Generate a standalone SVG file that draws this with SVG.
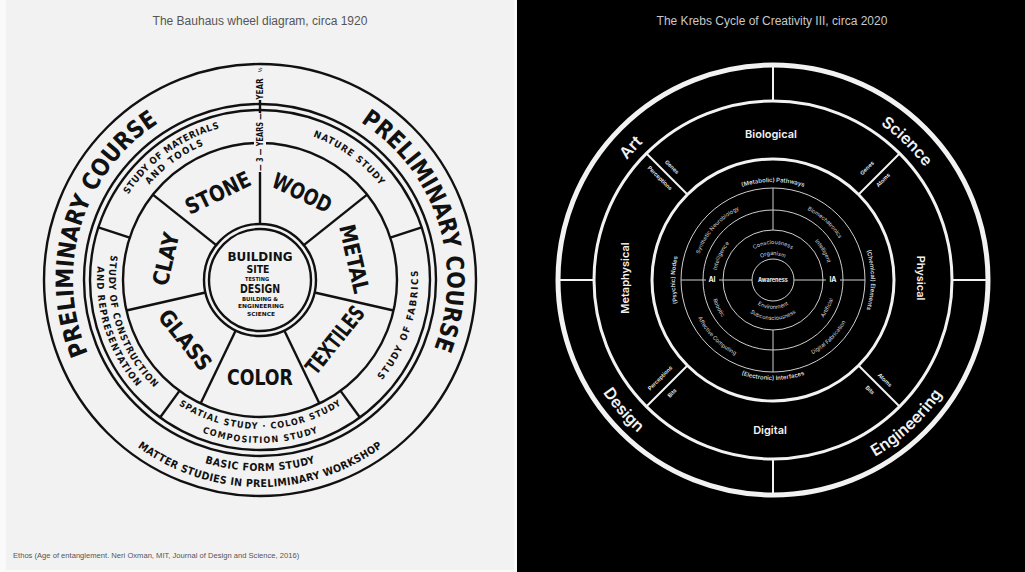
<svg xmlns="http://www.w3.org/2000/svg" xmlns:xlink="http://www.w3.org/1999/xlink" width="1025" height="572" viewBox="0 0 1025 572">
<style>
.bw{fill:none;stroke:#111;stroke-width:2.4}
.bt{font-family:"Liberation Sans Narrow","DejaVu Sans Condensed","Roboto Condensed","Liberation Sans",sans-serif;font-weight:bold;fill:#111}
.kw{fill:none;stroke:#f2f2f2}
.kt{font-family:"Inter","Liberation Sans",sans-serif;fill:#f2f2f2}
.ks{font-family:"Inter","Liberation Sans",sans-serif;fill:#d8d8d8;font-size:5.5px}
.cap{font-family:"Liberation Sans",Arial,sans-serif;font-size:12px}
</style>
<defs>
<path id="b_cw187" d="M75.84,247.53 A187,187 0 0 1 444.16,247.53"/>
<path id="b_ccw191" d="M71.90,313.17 A191,191 0 0 0 448.10,313.17"/>
<path id="b_ccw207" d="M56.14,315.95 A207,207 0 0 0 463.86,315.95"/>
<path id="b_cw157" d="M105.38,252.74 A157,157 0 0 1 414.62,252.74"/>
<path id="b_cw146" d="M116.22,254.65 A146,146 0 0 1 403.78,254.65"/>
<path id="b_cw153" d="M109.32,253.43 A153,153 0 0 1 410.68,253.43"/>
<path id="b_ccw158" d="M104.40,307.44 A158,158 0 0 0 415.60,307.44"/>
<path id="b_ccw149" d="M113.26,305.87 A149,149 0 0 0 406.74,305.87"/>
<path id="b_ccw163" d="M99.48,308.30 A163,163 0 0 0 420.52,308.30"/>
<path id="b_ccw151" d="M111.29,306.22 A151,151 0 0 0 408.71,306.22"/>
<path id="k_cw189" d="M586.87,247.18 A189,189 0 0 1 959.13,247.18"/>
<path id="k_ccw204" d="M572.10,315.42 A204,204 0 0 0 973.90,315.42"/>
<path id="k_cw98" d="M676.49,262.98 A98,98 0 0 1 869.51,262.98"/>
<path id="k_ccw100" d="M674.52,297.37 A100,100 0 0 0 871.48,297.37"/>
<path id="k_cw78" d="M696.18,266.46 A78,78 0 0 1 849.82,266.46"/>
<path id="k_ccw84" d="M690.28,294.59 A84,84 0 0 0 855.72,294.59"/>
<path id="k_cw57" d="M716.87,270.10 A57,57 0 0 1 829.13,270.10"/>
<path id="k_ccw63" d="M710.96,290.94 A63,63 0 0 0 835.04,290.94"/>
<path id="k_cw36" d="M737.55,273.75 A36,36 0 0 1 808.45,273.75"/>
<path id="k_cw25" d="M748.38,275.66 A25,25 0 0 1 797.62,275.66"/>
<path id="k_ccw29" d="M744.44,285.04 A29,29 0 0 0 801.56,285.04"/>
<path id="k_ccw40" d="M733.61,286.95 A40,40 0 0 0 812.39,286.95"/>
</defs>

<rect width="1025" height="572" fill="#fafafa"/>
<rect x="6" y="0" width="508" height="570" fill="#f2f2f2"/>
<rect x="517" y="0" width="508" height="572" fill="#000"/>

<text class="cap" x="260" y="25" text-anchor="middle" fill="#555">The Bauhaus wheel diagram, circa 1920</text>
<text class="cap" x="772" y="25" text-anchor="middle" fill="#c8c8c8">The Krebs Cycle of Creativity III, circa 2020</text>
<text x="13" y="558" font-family="Liberation Sans,Arial,sans-serif" font-size="7.6" fill="#555">Ethos (Age of entanglement. Neri Oxman, MIT, Journal of Design and Science, 2016)</text>

<!-- ============ BAUHAUS WHEEL ============ -->
<g id="bauhaus-rings">
<circle class="bw" cx="260" cy="280" r="216" stroke-width="2.8"/>
<circle class="bw" cx="260" cy="280" r="176"/>
<circle class="bw" cx="260" cy="280" r="170"/>
<circle class="bw" cx="260" cy="280" r="137"/>
<circle class="bw" cx="260" cy="280" r="56"/>
<circle class="bw" cx="260" cy="280" r="51"/>
</g>
<g id="bauhaus-connectors" class="bw">
<line x1="260" y1="224" x2="260" y2="172"/>
<line x1="260" y1="114" x2="260" y2="100"/>
<line x1="303.78" y1="245.08" x2="367.11" y2="194.58"/>
<line x1="314.60" y1="292.46" x2="393.57" y2="310.49"/>
<line x1="284.30" y1="330.45" x2="319.44" y2="403.43"/>
<line x1="235.70" y1="330.45" x2="200.56" y2="403.43"/>
<line x1="205.40" y1="292.46" x2="126.43" y2="310.49"/>
<line x1="216.22" y1="245.08" x2="152.89" y2="194.58"/>
<line x1="390.30" y1="237.66" x2="421.68" y2="227.47"/>
<line x1="340.53" y1="390.84" x2="359.92" y2="417.53"/>
<line x1="179.47" y1="390.84" x2="160.08" y2="417.53"/>
<line x1="129.70" y1="237.66" x2="98.32" y2="227.47"/>
</g>
<rect x="254" y="113" width="12" height="59" fill="#f2f2f2"/>
<text class="bt" font-size="8.5" transform="translate(260,142) rotate(-90)" text-anchor="middle" dominant-baseline="central" textLength="58" lengthAdjust="spacingAndGlyphs">— 3 — YEARS —</text>
<text class="bt" font-size="8" transform="translate(260,89) rotate(-90)" text-anchor="middle" dominant-baseline="central">YEAR</text>
<text class="bt" font-size="5" transform="translate(260,70) rotate(-90)" text-anchor="middle" dominant-baseline="central">½</text>

<g id="bauhaus-outer-ring">
<text class="bt" font-size="24" transform="rotate(-73 260 280)"><textPath href="#b_cw187" startOffset="50%" text-anchor="middle" textLength="262" lengthAdjust="spacingAndGlyphs">PRELIMINARY COURSE</textPath></text>
<text class="bt" font-size="24" transform="rotate(72 260 280)"><textPath href="#b_cw187" startOffset="50%" text-anchor="middle" textLength="258" lengthAdjust="spacingAndGlyphs">PRELIMINARY COURSE</textPath></text>
<text class="bt" font-size="10.5"><textPath href="#b_ccw191" startOffset="50%" text-anchor="middle" textLength="112">BASIC FORM STUDY</textPath></text>
<text class="bt" font-size="10.5"><textPath href="#b_ccw207" startOffset="50%" text-anchor="middle" textLength="262">MATTER STUDIES IN PRELIMINARY WORKSHOP</textPath></text>
</g>
<g id="bauhaus-study-ring">
<text class="bt" font-size="9.5" transform="rotate(-36 260 280)"><textPath href="#b_cw157" startOffset="50%" text-anchor="middle" textLength="115">STUDY OF MATERIALS</textPath></text>
<text class="bt" font-size="9.5" transform="rotate(-36 260 280)"><textPath href="#b_cw146" startOffset="50%" text-anchor="middle" textLength="68">AND TOOLS</textPath></text>
<text class="bt" font-size="9.5" transform="rotate(36 260 280)"><textPath href="#b_cw153" startOffset="50%" text-anchor="middle" textLength="84">NATURE STUDY</textPath></text>
<text class="bt" font-size="9.5" transform="rotate(-72 260 280)"><textPath href="#b_ccw158" startOffset="50%" text-anchor="middle" textLength="118">STUDY OF FABRICS</textPath></text>
<text class="bt" font-size="9"><textPath href="#b_ccw149" startOffset="50%" text-anchor="middle" textLength="172">SPATIAL STUDY · COLOR STUDY</textPath></text>
<text class="bt" font-size="9"><textPath href="#b_ccw163" startOffset="50%" text-anchor="middle" textLength="118">COMPOSITION STUDY</textPath></text>
<text class="bt" font-size="9.5" transform="rotate(72 260 280)"><textPath href="#b_ccw151" startOffset="50%" text-anchor="middle" textLength="145">STUDY OF CONSTRUCTION</textPath></text>
<text class="bt" font-size="9.5" transform="rotate(72 260 280)"><textPath href="#b_ccw163" startOffset="50%" text-anchor="middle" textLength="130">AND REPRESENTATION</textPath></text>
</g>
<g id="bauhaus-workshops" text-anchor="middle" dominant-baseline="central">
<text class="bt" font-size="22" transform="translate(218,193) rotate(-25.7)" textLength="70" lengthAdjust="spacingAndGlyphs">STONE</text>
<text class="bt" font-size="22" transform="translate(302,193) rotate(25.7)" textLength="63" lengthAdjust="spacingAndGlyphs">WOOD</text>
<text class="bt" font-size="22" transform="translate(354,259) rotate(77.1)" textLength="70" lengthAdjust="spacingAndGlyphs">METAL</text>
<text class="bt" font-size="22" transform="translate(335,340) rotate(-51.4)" textLength="80" lengthAdjust="spacingAndGlyphs">TEXTILES</text>
<text class="bt" font-size="22" transform="translate(260,377)" textLength="66" lengthAdjust="spacingAndGlyphs">COLOR</text>
<text class="bt" font-size="22" transform="translate(185,340) rotate(51.4)" textLength="71" lengthAdjust="spacingAndGlyphs">GLASS</text>
<text class="bt" font-size="22" transform="translate(166,259) rotate(-77.1)" textLength="54" lengthAdjust="spacingAndGlyphs">CLAY</text>
</g>
<g id="bauhaus-hub" text-anchor="middle">
<text class="bt" x="260" y="261" font-size="12.5" textLength="65" lengthAdjust="spacingAndGlyphs">BUILDING</text>
<text class="bt" x="258" y="273" font-size="10.5" textLength="23" lengthAdjust="spacingAndGlyphs">SITE</text>
<text class="bt" x="257" y="281" font-size="5.5" textLength="24" lengthAdjust="spacingAndGlyphs">TESTING</text>
<text class="bt" x="260" y="293" font-size="13" textLength="40" lengthAdjust="spacingAndGlyphs">DESIGN</text>
<text class="bt" x="260" y="301" font-size="5.5" textLength="36" lengthAdjust="spacingAndGlyphs">BUILDING &amp;</text>
<text class="bt" x="261" y="308" font-size="5.5" textLength="46" lengthAdjust="spacingAndGlyphs">ENGINEERING</text>
<text class="bt" x="261" y="316" font-size="5.5" textLength="28" lengthAdjust="spacingAndGlyphs">SCIENCE</text>
</g>

<!-- ============ KREBS CYCLE ============ -->
<g id="krebs-rings">
<circle class="kw" cx="773" cy="280" r="215" stroke-width="5"/>
<circle class="kw" cx="773" cy="280" r="179" stroke-width="3"/>
<circle class="kw" cx="773" cy="280" r="121" stroke-width="3"/>
<circle cx="773" cy="280" r="92" fill="none" stroke="#cfcfcf" stroke-width="1"/>
<circle cx="773" cy="280" r="70" fill="none" stroke="#cfcfcf" stroke-width="1"/>
<circle cx="773" cy="280" r="50" fill="none" stroke="#cfcfcf" stroke-width="1"/>
<circle cx="773" cy="280" r="21" fill="none" stroke="#cfcfcf" stroke-width="1"/>
</g>
<g id="krebs-connectors">
<g stroke="#f2f2f2" stroke-width="2">
<line x1="773" y1="65" x2="773" y2="101"/>
<line x1="773" y1="459" x2="773" y2="495"/>
<line x1="558" y1="280" x2="594" y2="280"/>
<line x1="952" y1="280" x2="988" y2="280"/>
<line x1="646.43" y1="153.43" x2="687.44" y2="194.44"/>
<line x1="899.57" y1="153.43" x2="858.56" y2="194.44"/>
<line x1="899.57" y1="406.57" x2="858.56" y2="365.56"/>
<line x1="646.43" y1="406.57" x2="687.44" y2="365.56"/>
</g>
<g stroke="#cfcfcf" stroke-width="1">
<line x1="773" y1="188" x2="773" y2="230"/>
<line x1="773" y1="330" x2="773" y2="372"/>
<line x1="681" y1="280" x2="706" y2="280"/>
<line x1="719" y1="280" x2="752" y2="280"/>
<line x1="794" y1="280" x2="826" y2="280"/>
<line x1="840" y1="280" x2="865" y2="280"/>
</g>
</g>
<g id="krebs-outer-labels" class="kt" font-size="16" font-weight="600">
<text transform="rotate(-47 773 280)"><textPath href="#k_cw189" startOffset="50%" text-anchor="middle">Art</textPath></text>
<text transform="rotate(44 773 280)"><textPath href="#k_cw189" startOffset="50%" text-anchor="middle">Science</textPath></text>
<text transform="rotate(49 773 280)"><textPath href="#k_ccw204" startOffset="50%" text-anchor="middle">Design</textPath></text>
<text transform="rotate(-43 773 280)"><textPath href="#k_ccw204" startOffset="50%" text-anchor="middle">Engineering</textPath></text>
</g>
<g id="krebs-domains" class="kt" font-size="11" font-weight="600" text-anchor="middle" dominant-baseline="central">
<text x="771" y="134">Biological</text>
<text transform="translate(921,278) rotate(90)">Physical</text>
<text transform="translate(625,278) rotate(-90)">Metaphysical</text>
<text x="770" y="430">Digital</text>
</g>
<g id="krebs-radial-labels" class="kt" font-size="5.5" font-weight="600" text-anchor="middle" dominant-baseline="central">
<text transform="translate(672,167) rotate(45)">Genes</text>
<text transform="translate(660,178) rotate(45)">Perceptions</text>
<text transform="translate(867,168) rotate(-45)">Genes</text>
<text transform="translate(883,180) rotate(-45)">Atoms</text>
<text transform="translate(660,378) rotate(-45)">Perceptions</text>
<text transform="translate(672,393) rotate(-45)">Bits</text>
<text transform="translate(885,380) rotate(45)">Atoms</text>
<text transform="translate(870,390) rotate(45)">Bits</text>
</g>
<g id="krebs-inner" class="ks">
<text font-weight="600" font-size="6"><textPath href="#k_cw98" startOffset="50%" text-anchor="middle">(Metabolic) Pathways</textPath></text>
<text font-weight="600" font-size="6" transform="rotate(-90 773 280)"><textPath href="#k_cw98" startOffset="50%" text-anchor="middle">(Psychic) Nodes</textPath></text>
<text font-weight="600" font-size="6" transform="rotate(90 773 280)"><textPath href="#k_cw98" startOffset="50%" text-anchor="middle">(Chemical) Elements</textPath></text>
<text font-weight="600" font-size="6"><textPath href="#k_ccw100" startOffset="50%" text-anchor="middle">(Electronic) Interfaces</textPath></text>
<text transform="rotate(-48 773 280)"><textPath href="#k_cw78" startOffset="50%" text-anchor="middle">Synthetic Neurobiology</textPath></text>
<text transform="rotate(42 773 280)"><textPath href="#k_cw78" startOffset="50%" text-anchor="middle">Biomechatronics</textPath></text>
<text transform="rotate(-44 773 280)"><textPath href="#k_ccw84" startOffset="50%" text-anchor="middle">Digital Fabrication</textPath></text>
<text transform="rotate(45 773 280)"><textPath href="#k_ccw84" startOffset="50%" text-anchor="middle">Affective Computing</textPath></text>
<text transform="rotate(-65 773 280)"><textPath href="#k_cw57" startOffset="50%" text-anchor="middle">Intelligence</textPath></text>
<text transform="rotate(60 773 280)"><textPath href="#k_cw57" startOffset="50%" text-anchor="middle">Intelligent</textPath></text>
<text transform="rotate(63 773 280)"><textPath href="#k_ccw63" startOffset="50%" text-anchor="middle">Robotic</textPath></text>
<text transform="rotate(-63 773 280)"><textPath href="#k_ccw63" startOffset="50%" text-anchor="middle">Artificial</textPath></text>
<text><textPath href="#k_cw36" startOffset="50%" text-anchor="middle">Consciousness</textPath></text>
<text><textPath href="#k_cw25" startOffset="50%" text-anchor="middle">Organism</textPath></text>
<text><textPath href="#k_ccw29" startOffset="50%" text-anchor="middle">Environment</textPath></text>
<text><textPath href="#k_ccw40" startOffset="50%" text-anchor="middle">Subconsciousness</textPath></text>
<text x="773" y="282" text-anchor="middle" font-weight="bold" fill="#f2f2f2">Awareness</text>
<text x="712" y="282" text-anchor="middle" font-weight="bold" font-size="7" fill="#f2f2f2">AI</text>
<text x="833" y="282" text-anchor="middle" font-weight="bold" font-size="7" fill="#f2f2f2">IA</text>
</g>
</svg>
